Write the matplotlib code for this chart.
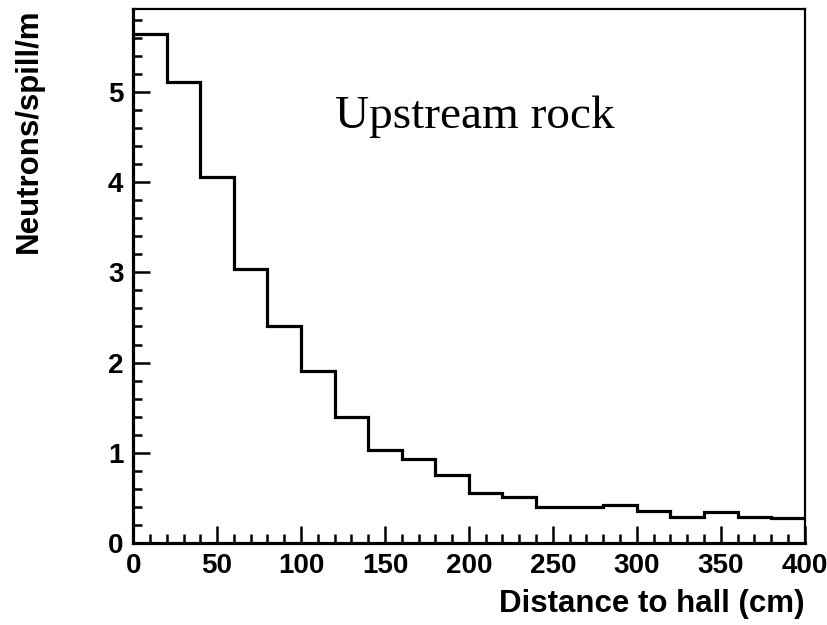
import numpy as np
import matplotlib.pyplot as plt

# Neutron counts per 20 cm bin
bin_edges = np.arange(0, 420, 20)
neutrons = [5.64, 5.11, 4.06, 3.04, 2.40, 1.91, 1.40, 1.03, 0.93, 0.75,
            0.55, 0.51, 0.40, 0.40, 0.42, 0.36, 0.29, 0.34, 0.29, 0.28]

fig = plt.figure(figsize=(8.27, 6.25), dpi=100)
ax = fig.add_axes([0.161, 0.131, 0.812, 0.855])

ax.stairs(neutrons, bin_edges, color='black', linewidth=2.3, baseline=None)

ax.set_xlim(0, 400)
ax.set_ylim(0, 5.92)

ax.set_xticks(np.arange(0, 401, 50))
ax.set_xticks(np.arange(0, 401, 10), minor=True)
ax.set_yticks(np.arange(0, 6, 1))
ax.set_yticks(np.arange(0, 5.9, 0.2), minor=True)

ax.tick_params(which='both', direction='in', top=False, right=False, width=1.8)
ax.tick_params(which='major', length=12)
ax.tick_params(which='minor', length=6.5)
ax.tick_params(axis='x', pad=7)
ax.tick_params(axis='y', pad=7)
for lab in ax.get_xticklabels() + ax.get_yticklabels():
    lab.set_fontfamily('Liberation Sans')
    lab.set_fontweight('bold')
    lab.set_fontsize(20)

for side in ['left', 'bottom']:
    ax.spines[side].set_linewidth(2.3)
for side in ['top', 'right']:
    ax.spines[side].set_linewidth(1.6)

ax.set_xlabel('Distance to hall (cm)', loc='right', fontsize=22.5, fontweight='bold',
              fontfamily='Liberation Sans', labelpad=7)
ax.set_ylabel('Neutrons/spill/m', loc='top', fontsize=22.5, fontweight='bold',
              fontfamily='Liberation Sans', labelpad=46)

ax.text(120, 4.6, 'Upstream rock', fontsize=34, fontfamily='Liberation Serif',
        ha='left', va='baseline')

fig.savefig('out.png', dpi=100)
